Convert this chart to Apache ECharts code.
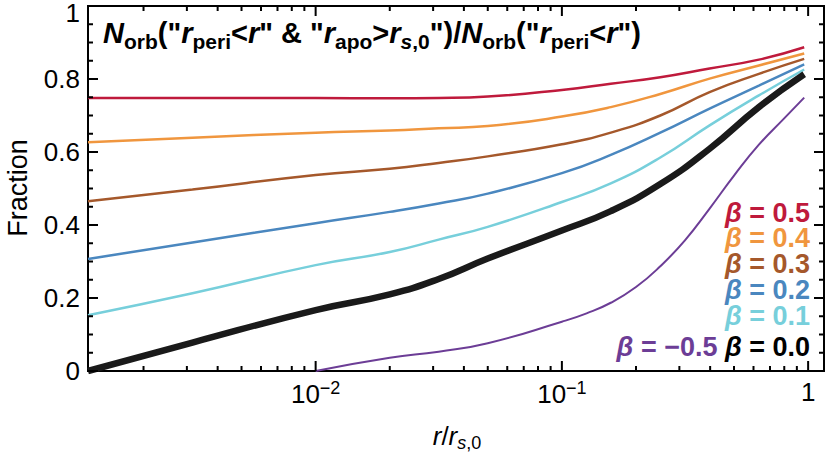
<!DOCTYPE html>
<html>
<head>
<meta charset="utf-8">
<script src="https://cdn.jsdelivr.net/npm/echarts@6/dist/echarts.min.js"></script>
<style>
  html, body { margin: 0; padding: 0; background: #fff; }
  #chart { width: 830px; height: 456px; }
</style>
</head>
<body>
<div id="chart"></div>
<script>
// x range (r / r_s,0) and tick positions
const xMin = 0.00119;
const xMax = 1.16;
const xMajor = [0.01, 0.1, 1];
const xMinor = [0.002, 0.003, 0.004, 0.005, 0.006, 0.007, 0.008, 0.009,
  0.02, 0.03, 0.04, 0.05, 0.06, 0.07, 0.08, 0.09,
  0.2, 0.3, 0.4, 0.5, 0.6, 0.7, 0.8, 0.9];
const yMajor = [0, 0.2, 0.4, 0.6, 0.8, 1];
const yMinor = [0.05, 0.1, 0.15, 0.25, 0.3, 0.35, 0.45, 0.5, 0.55, 0.65, 0.7, 0.75, 0.85, 0.9, 0.95];

// sampled radii for beta = 0.5 ... 0.0
const rGrid = [0.00119, 0.00316, 0.01, 0.02, 0.0316, 0.05, 0.1, 0.158, 0.251, 0.398, 0.631, 0.964];
const beta05 = [0.748, 0.748, 0.748, 0.747, 0.748, 0.752, 0.770, 0.787, 0.805, 0.829, 0.853, 0.887];
const beta04 = [0.627, 0.639, 0.653, 0.659, 0.665, 0.671, 0.697, 0.723, 0.759, 0.801, 0.837, 0.870];
const beta03 = [0.465, 0.497, 0.537, 0.554, 0.570, 0.588, 0.621, 0.653, 0.700, 0.764, 0.814, 0.855];
const beta02 = [0.307, 0.352, 0.405, 0.436, 0.459, 0.486, 0.542, 0.592, 0.653, 0.719, 0.782, 0.840];
const beta01 = [0.153, 0.213, 0.290, 0.326, 0.360, 0.395, 0.463, 0.514, 0.585, 0.673, 0.755, 0.826];
const beta00 = [0.000, 0.078, 0.167, 0.210, 0.252, 0.308, 0.385, 0.438, 0.512, 0.609, 0.723, 0.813];

// beta = -0.5 starts at r = 0.01
const rNeg = [0.01, 0.02, 0.0316, 0.05, 0.1, 0.126, 0.158, 0.2, 0.251, 0.316, 0.398, 0.501, 0.631, 0.794, 0.964];
const betaNeg05 = [0.000, 0.036, 0.053, 0.076, 0.135, 0.158, 0.187, 0.230, 0.287, 0.358, 0.445, 0.536, 0.620, 0.690, 0.749];

const lines = [
  { name: 'β = -0.5', r: rNeg, v: betaNeg05, color: '#6c3d96', width: 2 },
  { name: 'β = 0.5', r: rGrid, v: beta05, color: '#bf1a3c', width: 2.5 },
  { name: 'β = 0.4', r: rGrid, v: beta04, color: '#f0963e', width: 2.5 },
  { name: 'β = 0.3', r: rGrid, v: beta03, color: '#a5582b', width: 2.5 },
  { name: 'β = 0.2', r: rGrid, v: beta02, color: '#4a87bf', width: 2.5 },
  { name: 'β = 0.1', r: rGrid, v: beta01, color: '#77cfdb', width: 2.5 },
  { name: 'β = 0.0', r: rGrid, v: beta00, color: '#1a1a1a', width: 6.5 }
];

const font = 'Liberation Sans, Arial, sans-serif';
const ink = '#000';

// svg renderer
const chart = echarts.init(document.getElementById('chart'), null, { renderer: 'svg' });

function isPow10(v) {
  const e = Math.log10(v);
  return Math.abs(e - Math.round(e)) < 1e-6;
}

function tickLine(x1, y1, x2, y2) {
  return { type: 'line', shape: { x1: x1, y1: y1, x2: x2, y2: y2 }, style: { stroke: ink, lineWidth: 2 } };
}

// one data item per tick: [x, y, length, side]; side 0 = bottom/left, 1 = top/right
const xTickData = [];
[[xMajor, 10], [xMinor, 5]].forEach(function (set) {
  set[0].forEach(function (v) { xTickData.push([v, 0, set[1], 0], [v, 1, set[1], 1]); });
});
const yTickData = [];
[[yMajor, 10], [yMinor, 5]].forEach(function (set) {
  set[0].forEach(function (v) { yTickData.push([xMin, v, set[1], 0], [xMax, v, set[1], 1]); });
});

const texts = [
  {
    type: 'text', x: 18, y: 188, rotation: Math.PI / 2,
    style: { text: 'Fraction', fontSize: 27, fontFamily: font, fill: ink, align: 'center', verticalAlign: 'middle' }
  },
  {
    type: 'text', x: 457, y: 436,
    style: {
      text: '{i|r}{n|/}{i|r}{si|s}{sn|,0}',
      align: 'center', verticalAlign: 'middle',
      rich: {
        i: { fontSize: 26, fontFamily: font, fontStyle: 'italic', fill: ink },
        n: { fontSize: 26, fontFamily: font, fill: ink },
        si: { fontSize: 18, fontFamily: font, fontStyle: 'italic', fill: ink, padding: [14, 0, 0, 0] },
        sn: { fontSize: 18, fontFamily: font, fill: ink, padding: [14, 0, 0, 0] }
      }
    }
  },
  {
    type: 'text', x: 103, y: 33,
    style: {
      text: '{ni|N}{sb|orb}{n|("}{ni|r}{sb|peri}{n|<}{ni|r}{n|" & "}{ni|r}{sb|apo}{n|>}{ni|r}{si|s}{sb|,0}{n|")/}{ni|N}{sb|orb}{n|("}{ni|r}{sb|peri}{n|<}{ni|r}{n|")}',
      verticalAlign: 'middle',
      rich: {
        ni: { fontSize: 29, fontFamily: font, fontWeight: 'bold', fontStyle: 'italic', fill: ink },
        n: { fontSize: 29, fontFamily: font, fontWeight: 'bold', fill: ink },
        sb: { fontSize: 21, fontFamily: font, fontWeight: 'bold', fill: ink, padding: [16, 0, 0, 0] },
        si: { fontSize: 21, fontFamily: font, fontWeight: 'bold', fontStyle: 'italic', fill: ink, padding: [16, 0, 0, 0] }
      }
    }
  }
].concat([
  { t: '0.5', c: '#bf1a3c', y: 213 },
  { t: '0.4', c: '#f0963e', y: 238 },
  { t: '0.3', c: '#a5582b', y: 264 },
  { t: '0.2', c: '#4a87bf', y: 290 },
  { t: '0.1', c: '#77cfdb', y: 316 }
].map(function (o) {
  return {
    type: 'text', x: 810, y: o.y,
    style: {
      text: '{b|β}{n| = ' + o.t + '}', align: 'right', verticalAlign: 'middle',
      rich: {
        b: { fontSize: 27, fontFamily: font, fontWeight: 'bold', fontStyle: 'italic', fill: o.c },
        n: { fontSize: 27, fontFamily: font, fontWeight: 'bold', fill: o.c }
      }
    }
  };
})).concat([{
  type: 'text', x: 810, y: 347,
  style: {
    text: '{pb|β}{pn| = −0.5 }{kb|β}{kn| = 0.0}', align: 'right', verticalAlign: 'middle',
    rich: {
      pb: { fontSize: 27, fontFamily: font, fontWeight: 'bold', fontStyle: 'italic', fill: '#6c3d96' },
      pn: { fontSize: 27, fontFamily: font, fontWeight: 'bold', fill: '#6c3d96' },
      kb: { fontSize: 27, fontFamily: font, fontWeight: 'bold', fontStyle: 'italic', fill: '#000' },
      kn: { fontSize: 27, fontFamily: font, fontWeight: 'bold', fill: '#000' }
    }
  }
}]);

chart.setOption({
  animation: false,
  grid: { left: 88, right: 6, top: 5, bottom: 85, show: true, borderColor: ink, borderWidth: 2, backgroundColor: 'transparent' },
  xAxis: {
    type: 'log', min: xMin, max: xMax,
    axisLine: { show: true, lineStyle: { color: ink, width: 2 } },
    axisTick: { show: false },
    axisLabel: {
      show: true, margin: 8,
      formatter: function (v) {
        if (!isPow10(v)) return '';
        const e = Math.round(Math.log10(v));
        return e === 0 ? '{b|1}' : '{b|10}{s|−' + (-e) + '}';
      },
      rich: {
        b: { fontSize: 26, fontFamily: font, color: ink },
        s: { fontSize: 18, fontFamily: font, color: ink, padding: [0, 0, 12, 0] }
      }
    },
    splitLine: { show: false }
  },
  yAxis: {
    type: 'value', min: 0, max: 1, interval: 0.2,
    axisLine: { show: true, lineStyle: { color: ink, width: 2 } },
    axisTick: { show: false },
    axisLabel: {
      show: true, margin: 8, fontSize: 26, fontFamily: font, color: ink,
      formatter: function (v) { return v === 1 ? '{t|1}' : String(v); },
      rich: { t: { fontSize: 26, fontFamily: font, color: ink, padding: [14, 0, 0, 0] } }
    },
    splitLine: { show: false }
  },
  series: lines.map(function (s) {
    return {
      name: s.name, type: 'line',
      data: s.r.map(function (r, i) { return [r, s.v[i]]; }),
      showSymbol: false, smooth: 0.5, clip: true,
      lineStyle: { color: s.color, width: s.width }
    };
  }).concat([
    {
      type: 'custom', silent: true, clip: false, z: 5,
      data: xTickData,
      renderItem: function (params, api) {
        const side = api.value(3), len = api.value(2);
        const p = api.coord([api.value(0), side]);
        return tickLine(p[0], p[1], p[0], side ? p[1] + len : p[1] - len);
      }
    },
    {
      type: 'custom', silent: true, clip: false, z: 5,
      data: yTickData,
      renderItem: function (params, api) {
        const side = api.value(3), len = api.value(2);
        const p = api.coord([api.value(0), api.value(1)]);
        return tickLine(p[0], p[1], side ? p[0] - len : p[0] + len, p[1]);
      }
    }
  ]),
  graphic: texts
});
</script>
</body>
</html>
